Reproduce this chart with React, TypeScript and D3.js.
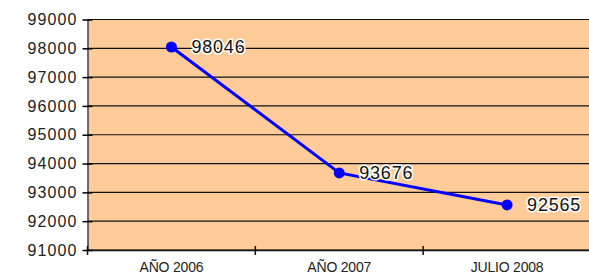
import React, { useEffect, useRef } from 'react';
import * as d3 from 'd3';

const categories = ['AÑO 2006', 'AÑO 2007', 'JULIO 2008'];
const values = [98046, 93676, 92565];
const yTicks = [91000, 92000, 93000, 94000, 95000, 96000, 97000, 98000, 99000];

const W = 589;
const H = 277;

const App = () => {
  const ref = useRef<SVGSVGElement>(null);

  useEffect(() => {
    const svg = d3.select(ref.current);
    svg.selectAll('*').remove();

    const margin = { top: 19.5, right: -2, bottom: 27, left: 87.5 };
    const width = W - margin.left - margin.right;
    const height = H - margin.top - margin.bottom;

    const g = svg.append('g').attr('transform', `translate(${margin.left},${margin.top})`);

    const x = d3.scaleBand().domain(categories).range([0, width]);
    const y = d3.scaleLinear().domain([91000, 99000]).range([height, 0]);

    // fond
    g.append('rect')
      .attr('width', width)
      .attr('height', height)
      .attr('fill', '#FFCC99');

    // grille
    g.selectAll('.grid')
      .data(yTicks)
      .enter().append('line')
      .attr('x1', 0)
      .attr('x2', width)
      .attr('y1', d => y(d))
      .attr('y2', d => y(d))
      .attr('stroke', '#111')
      .attr('stroke-width', 1.2);

    // axe Y
    const yAxis = g.append('g').call(
      d3.axisLeft(y).tickValues(yTicks).tickSize(5).tickSizeOuter(0).tickPadding(6).tickFormat(d3.format('d'))
    );
    yAxis.select('.domain').attr('stroke', '#444').attr('stroke-width', 1.5);
    yAxis.selectAll('.tick line').attr('stroke', '#000').attr('stroke-width', 1.5).attr('x2', 5).attr('x1', -5);
    yAxis.selectAll('.tick text')
      .attr('x', -10)
      .attr('font-family', 'Liberation Sans, Arial, sans-serif')
      .attr('font-size', 16)
      .attr('letter-spacing', 1.1)
      .attr('fill', '#222');

    // axe X
    const xAxis = g.append('g')
      .attr('transform', `translate(0,${height})`)
      .call(d3.axisBottom(x).tickSize(0).tickSizeOuter(0).tickPadding(12));
    xAxis.select('.domain').attr('stroke', '#111').attr('stroke-width', 1.5);
    xAxis.selectAll('.tick text')
      .attr('font-family', 'Liberation Sans, Arial, sans-serif')
      .attr('font-size', 14)
      .attr('letter-spacing', -0.2)
      .attr('fill', '#222');
    g.selectAll('.xtick')
      .data(categories)
      .enter().append('line')
      .attr('x1', d => x(d)!)
      .attr('x2', d => x(d)!)
      .attr('y1', height - 4)
      .attr('y2', height + 5)
      .attr('stroke', '#111')
      .attr('stroke-width', 1.5);

    // ligne
    const line = d3.line<number>()
      .x((_, i) => x(categories[i])! + x.bandwidth() / 2)
      .y(d => y(d));

    g.append('path')
      .datum(values)
      .attr('d', line)
      .attr('fill', 'none')
      .attr('stroke', '#0000FF')
      .attr('stroke-width', 3);

    g.selectAll('.pt')
      .data(values)
      .enter().append('circle')
      .attr('cx', (_, i) => x(categories[i])! + x.bandwidth() / 2)
      .attr('cy', d => y(d))
      .attr('r', 5.5)
      .attr('fill', '#0000FF');

    // étiquettes
    g.selectAll('.lbl')
      .data(values)
      .enter().append('text')
      .attr('x', (_, i) => x(categories[i])! + x.bandwidth() / 2 + 20)
      .attr('y', d => y(d))
      .attr('dy', '0.36em')
      .attr('font-family', 'Liberation Sans, Arial, sans-serif')
      .attr('font-size', 18)
      .attr('letter-spacing', 0.8)
      .attr('fill', '#111')
      .attr('stroke', '#fff')
      .attr('stroke-width', 3)
      .attr('paint-order', 'stroke')
      .text(d => d);
  }, []);

  return (
    <svg
      ref={ref}
      width={W}
      height={H}
      style={{ position: 'absolute', left: 0, top: 0, background: '#fff' }}
    />
  );
};

export default App;
